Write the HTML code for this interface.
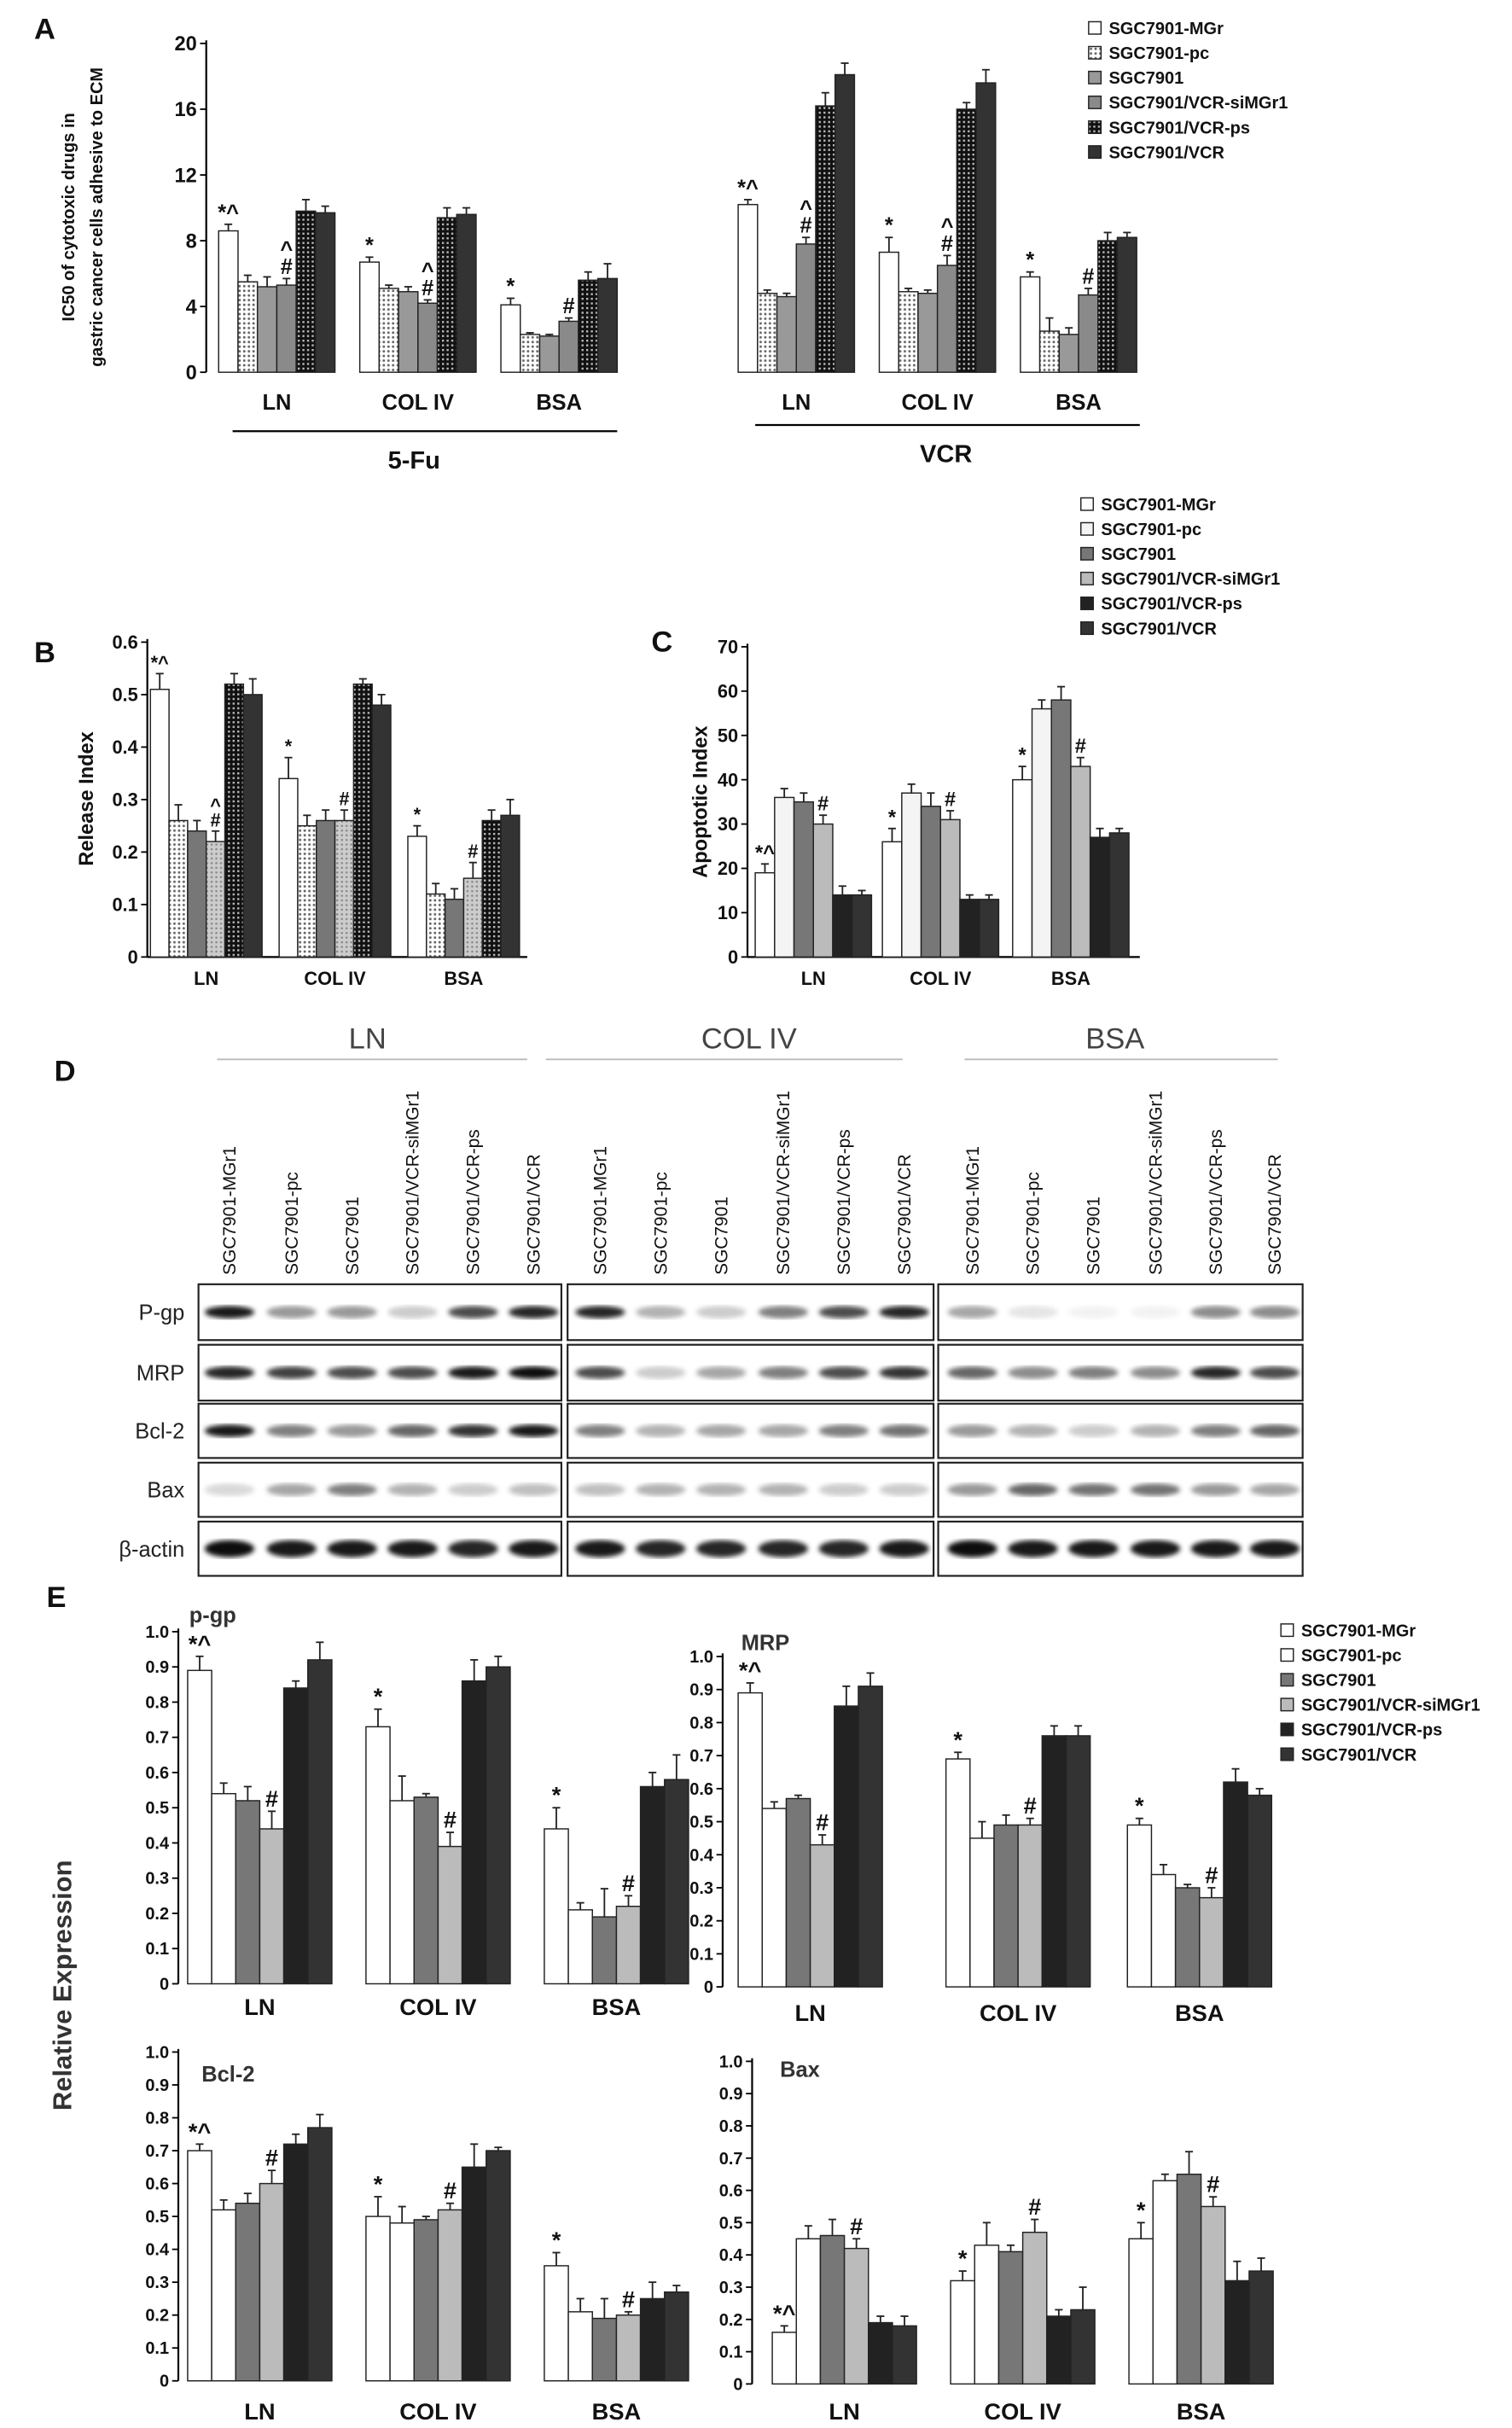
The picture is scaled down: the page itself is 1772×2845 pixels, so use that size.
<!DOCTYPE html>
<html><head><meta charset="utf-8">
<style>
html,body{margin:0;padding:0;background:#fff;}
svg{display:block;font-family:"Liberation Sans",Arial,sans-serif;}
</style></head>
<body>
<svg id="fig" width="1772" height="2845" viewBox="0 0 975 1565.4" preserveAspectRatio="none" xmlns="http://www.w3.org/2000/svg">
<defs>
<pattern id="dots" width="3" height="3" patternUnits="userSpaceOnUse"><rect width="3" height="3" fill="#fff"/><circle cx="1.5" cy="1.5" r="0.8" fill="#666"/></pattern>
<pattern id="ldots" width="3" height="3" patternUnits="userSpaceOnUse"><rect width="3" height="3" fill="#ccc"/><circle cx="1.5" cy="1.5" r="0.7" fill="#888"/></pattern>
<pattern id="chk" width="3" height="3" patternUnits="userSpaceOnUse"><rect width="3" height="3" fill="#111"/><rect x="0" y="0" width="1.3" height="1.3" fill="#bbb"/></pattern>
<filter id="blur"><feGaussianBlur stdDeviation="1.6"/></filter>
</defs>
<g id="root"></g>
</svg>
<script>
// ===== Panel A data =====
const aCategories = ["LN","COL IV","BSA","LN","COL IV","BSA"];
const aValues = [
 [8.6,5.5,5.2,5.3,9.8,9.7],
 [6.7,5.1,4.9,4.2,9.4,9.6],
 [4.1,2.3,2.2,3.1,5.6,5.7],
 [10.2,4.8,4.6,7.8,16.2,18.1],
 [7.3,4.9,4.8,6.5,16.0,17.6],
 [5.8,2.5,2.3,4.7,8.0,8.2]];
const aErrors = [
 [0.4,0.4,0.6,0.4,0.7,0.4],
 [0.3,0.2,0.3,0.2,0.6,0.4],
 [0.4,0.1,0.1,0.2,0.5,0.9],
 [0.3,0.2,0.2,0.4,0.8,0.7],
 [0.9,0.2,0.2,0.6,0.4,0.8],
 [0.3,0.8,0.4,0.4,0.5,0.3]];
const aTicks = [0,4,8,12,16,20];
const aMarks = [[0,0,"*^"],[0,3,"^#"],[1,0,"*"],[1,3,"^#"],[2,0,"*"],[2,3,"#"],[3,0,"*^"],[3,3,"^#"],[4,0,"*"],[4,3,"^#"],[5,0,"*"],[5,3,"#"]];
// ===== Panel B data =====
const bCategories = ["LN","COL IV","BSA"];
const bValues = [[0.51,0.26,0.24,0.22,0.52,0.50],[0.34,0.25,0.26,0.26,0.52,0.48],[0.23,0.12,0.11,0.15,0.26,0.27]];
const bErrors = [[0.03,0.03,0.02,0.02,0.02,0.03],[0.04,0.02,0.02,0.02,0.01,0.02],[0.02,0.02,0.02,0.03,0.02,0.03]];
const bTicks = [0,0.1,0.2,0.3,0.4,0.5,0.6];
const bMarks = [[0,0,"*^"],[0,3,"^#"],[1,0,"*"],[1,3,"#"],[2,0,"*"],[2,3,"#"]];
// ===== Panel C data =====
const cCategories = ["LN","COL IV","BSA"];
const cValues = [[19,36,35,30,14,14],[26,37,34,31,13,13],[40,56,58,43,27,28]];
const cErrors = [[2,2,2,2,2,1],[3,2,3,2,1,1],[3,2,3,2,2,1]];
const cTicks = [0,10,20,30,40,50,60,70];
const cMarks = [[0,0,"*^"],[0,3,"#"],[1,0,"*"],[1,3,"#"],[2,0,"*"],[2,3,"#"]];
// ===== Panel E data =====
const eCategories = ["LN","COL IV","BSA"];
const eTicks = [0,0.1,0.2,0.3,0.4,0.5,0.6,0.7,0.8,0.9,1.0];
const pgpValues = [[0.89,0.54,0.52,0.44,0.84,0.92],[0.73,0.52,0.53,0.39,0.86,0.90],[0.44,0.21,0.19,0.22,0.56,0.58]];
const pgpErrors = [[0.04,0.03,0.04,0.05,0.02,0.05],[0.05,0.07,0.01,0.04,0.06,0.03],[0.06,0.02,0.08,0.03,0.04,0.07]];
const mrpValues = [[0.89,0.54,0.57,0.43,0.85,0.91],[0.69,0.45,0.49,0.49,0.76,0.76],[0.49,0.34,0.30,0.27,0.62,0.58]];
const mrpErrors = [[0.03,0.02,0.01,0.03,0.06,0.04],[0.02,0.05,0.03,0.02,0.03,0.03],[0.02,0.03,0.01,0.03,0.04,0.02]];
const bclValues = [[0.70,0.52,0.54,0.60,0.72,0.77],[0.50,0.48,0.49,0.52,0.65,0.70],[0.35,0.21,0.19,0.20,0.25,0.27]];
const bclErrors = [[0.02,0.03,0.03,0.04,0.03,0.04],[0.06,0.05,0.01,0.02,0.07,0.01],[0.04,0.04,0.06,0.01,0.05,0.02]];
const baxValues = [[0.16,0.45,0.46,0.42,0.19,0.18],[0.32,0.43,0.41,0.47,0.21,0.23],[0.45,0.63,0.65,0.55,0.32,0.35]];
const baxErrors = [[0.02,0.04,0.05,0.03,0.02,0.03],[0.03,0.07,0.02,0.04,0.02,0.07],[0.05,0.02,0.07,0.03,0.06,0.04]];
const eMarks = [[0,0,"*^"],[0,3,"#"],[1,0,"*"],[1,3,"#"],[2,0,"*"],[2,3,"#"]];
const baxMarks = [[0,0,"*^"],[0,3,"#"],[1,0,"*"],[1,3,"#"],[2,0,"*"],[2,3,"#"]];
const seriesNames = ["SGC7901-MGr","SGC7901-pc","SGC7901","SGC7901/VCR-siMGr1","SGC7901/VCR-ps","SGC7901/VCR"];
const laneNames = ["SGC7901-MGr1","SGC7901-pc","SGC7901","SGC7901/VCR-siMGr1","SGC7901/VCR-ps","SGC7901/VCR"];
// ===== Panel D blot intensities =====
const blotRows = ["P-gp","MRP","Bcl-2","Bax","β-actin"];
const blotLN = [[0.9,0.4,0.4,0.2,0.7,0.85],[0.85,0.75,0.7,0.7,0.9,0.95],[0.9,0.5,0.4,0.6,0.8,0.9],[0.15,0.35,0.5,0.3,0.2,0.25],[0.95,0.9,0.9,0.9,0.85,0.9]];
const blotCOL = [[0.85,0.3,0.2,0.5,0.7,0.85],[0.7,0.2,0.35,0.5,0.7,0.8],[0.5,0.3,0.35,0.35,0.5,0.55],[0.25,0.3,0.3,0.3,0.2,0.2],[0.9,0.85,0.85,0.85,0.85,0.9]];
const blotBSA = [[0.35,0.1,0.05,0.05,0.45,0.45],[0.6,0.45,0.5,0.45,0.85,0.7],[0.4,0.3,0.2,0.3,0.5,0.6],[0.4,0.6,0.55,0.55,0.4,0.35],[0.95,0.9,0.9,0.9,0.9,0.9]];

const NS="http://www.w3.org/2000/svg";
const root=document.getElementById('root');
function el(tag,attrs,parent){const e=document.createElementNS(NS,tag);for(const k in attrs)e.setAttribute(k,attrs[k]);(parent||root).appendChild(e);return e;}
function txt(x,y,s,size,opts,parent){const t=el('text',Object.assign({x:x,y:y,'font-size':size,fill:'#111'},opts||{}),parent);t.textContent=s;return t;}

function chart(cfg){
  const g=el('g',{});
  
  
  const ys=v=>cfg.y0-(v/cfg.max)*(cfg.y0-cfg.yTop);
  const ax=el('line',{x1:cfg.x0,y1:cfg.yTop-2,x2:cfg.x0,y2:cfg.y0,stroke:'#000','stroke-width':1.2},g);
  
  
  const bx=el('line',{x1:cfg.x0,y1:cfg.y0,x2:cfg.xEnd,y2:cfg.y0,stroke:'#000','stroke-width':1.2},g);
  
  
  cfg.ticks.forEach(t=>{
    const y=ys(t);
    el('line',{x1:cfg.x0-4,y1:y,x2:cfg.x0,y2:y,stroke:'#000','stroke-width':1},g);
    const tl=txt(cfg.x0-6,y+cfg.tickSize*0.35,cfg.fmt(t),cfg.tickSize,{'text-anchor':'end','font-weight':'bold'},g);
    
    
  });
  cfg.values.forEach((grp,gi)=>{
    grp.forEach((v,bi)=>{
      const x=cfg.gx[gi]+bi*cfg.pitch;
      const y=ys(v);
      const r=el('rect',{x:x,y:y,width:cfg.barW,height:cfg.y0-y,fill:cfg.fills[bi],stroke:'#222','stroke-width':0.8},g);
      
      
      const e=cfg.errors[gi][bi];
      const ye=ys(v+e), cx=x+cfg.barW/2;
      el('line',{x1:cx,y1:y,x2:cx,y2:ye,stroke:'#222','stroke-width':1},g);
      el('line',{x1:cx-2.5,y1:ye,x2:cx+2.5,y2:ye,stroke:'#222','stroke-width':1},g);
    });
  });
  cfg.marks.forEach(m=>{
    const [gi,bi,s]=m;const v=cfg.values[gi][bi]+cfg.errors[gi][bi];
    const x=cfg.gx[gi]+bi*cfg.pitch+cfg.barW/2;
    let y=ys(v)-3;
    const chars=s.split('');
    if(bi===0){const t=txt(x,y,s,cfg.markSize,{'text-anchor':'middle','font-weight':'bold'},g);}
    else{for(let i=chars.length-1;i>=0;i--){const t=txt(x,y,chars[i],cfg.markSize,{'text-anchor':'middle','font-weight':'bold'},g);y-=cfg.markSize*0.8;}}
  });
  cfg.cats.forEach((c,gi)=>{
    const t=txt(cfg.gx[gi]+cfg.pitch*3-(cfg.pitch-cfg.barW)/2,cfg.labY,c,cfg.labSize,{'text-anchor':'middle','font-weight':'bold'},g);
    
    
  });
  return g;
}
function legend(x,y,fills,size,gap,name){
  const g=el('g',{});
  
  
  seriesNames.forEach((s,i)=>{
    const yy=y+i*gap;
    el('rect',{x:x,y:yy-8,width:8,height:8,fill:fills[i],stroke:'#222','stroke-width':0.8},g);
    const t=txt(x+13,yy,s,size,{'font-weight':'bold'},g);
    
    
  });
}
function letter(x,y,s){const t=txt(x,y,s,19,{'font-weight':'bold'});}

// ---- Panel A ----
letter(22,25,"A");
const aFills=['#fff','url(#dots)','#999','#8a8a8a','url(#chk)','#333'];
chart({name:'chart-a',x0:133,y0:240,yTop:28,max:20,xEnd:133,ticks:aTicks,fmt:t=>String(t),tickSize:13,
 values:aValues,errors:aErrors,cats:aCategories,gx:[141,232,323,476,567,658],pitch:12.5,barW:12.5,fills:aFills,
 marks:aMarks,markSize:14,labY:264,labSize:14});
(function(){const t1=txt(48,140,"IC50 of cytotoxic drugs in",11,{'text-anchor':'middle','font-weight':'bold',transform:'rotate(-90 48 140)'});
const t2=txt(66,140,"gastric cancer cells adhesive to ECM",11,{'text-anchor':'middle','font-weight':'bold',transform:'rotate(-90 66 140)'});
el('line',{x1:150,y1:278,x2:398,y2:278,stroke:'#000','stroke-width':1.2});
el('line',{x1:487,y1:274,x2:735,y2:274,stroke:'#000','stroke-width':1.2});
const f=txt(267,302,"5-Fu",16,{'text-anchor':'middle','font-weight':'bold'});
const v=txt(610,298,"VCR",16,{'text-anchor':'middle','font-weight':'bold'});})();
legend(702,22,aFills,11,16,'legend-a');

// ---- Panel B/C ----
letter(22,427,"B");letter(420,420,"C");
const bcFills=['#fff','#f4f4f4','#777','#bbb','#222','#333'];
chart({name:'chart-b',x0:95,y0:617,yTop:414,max:0.6,xEnd:340,ticks:bTicks,fmt:t=>t===0?"0":t.toFixed(1),tickSize:12,
 values:bValues,errors:bErrors,cats:bCategories,gx:[97,180,263],pitch:12,barW:12,fills:['#fff','url(#dots)','#777','url(#ldots)','url(#chk)','#333'],
 marks:bMarks,markSize:12,labY:635,labSize:12});
chart({name:'chart-c',x0:482,y0:617,yTop:417,max:70,xEnd:735,ticks:cTicks,fmt:t=>String(t),tickSize:12,
 values:cValues,errors:cErrors,cats:cCategories,gx:[487,569,653],pitch:12.5,barW:12.5,fills:bcFills,
 marks:cMarks,markSize:13,labY:635,labSize:12});
(function(){const t=txt(60,515,"Release Index",13,{'text-anchor':'middle','font-weight':'bold',transform:'rotate(-90 60 515)'});
const t2=txt(456,517,"Apoptotic Index",13,{'text-anchor':'middle','font-weight':'bold',transform:'rotate(-90 456 517)'});})();
legend(697,329,bcFills,11,16,'legend-bc');

// ---- Panel D ----
letter(35,697,"D");
const dPanels=[{name:'LN',hx:237,lx1:140,lx2:340,bx:128,bw:234,lanes:[148,188,227,266,305,344],data:blotLN},
 {name:'COL IV',hx:483,lx1:352,lx2:582,bx:366,bw:236,lanes:[387,426,465,505,544,583],data:blotCOL},
 {name:'BSA',hx:719,lx1:622,lx2:824,bx:605,bw:235,lanes:[627,666,705,745,784,822],data:blotBSA}];
const rowY=[828,867,905,943,981], rowH=[36,36,35,35,35];
dPanels.forEach(p=>{
  const h=txt(p.hx,676,p.name,19,{'text-anchor':'middle',fill:'#444'});
  
  
  el('line',{x1:p.lx1,y1:683,x2:p.lx2,y2:683,stroke:'#bbb','stroke-width':1});
  p.lanes.forEach((lx,i)=>{
    const t=txt(lx+4,822,laneNames[i],11.5,{transform:'rotate(-90 '+(lx+4)+' 822)'});
    
    
  });
  rowY.forEach((ry,ri)=>{
    const b=el('rect',{x:p.bx,y:ry,width:p.bw,height:rowH[ri],fill:'#fff',stroke:'#222','stroke-width':1.2});
    
    
    p.data[ri].forEach((v,li)=>{
      const band=el('ellipse',{cx:p.lanes[li],cy:ry+rowH[ri]/2,rx:16,ry:ri===4?5.5:4,fill:'#000','fill-opacity':v,filter:'url(#blur)'});
      
      
    });
  });
});
blotRows.forEach((r,ri)=>{const t=txt(119,rowY[ri]+rowH[ri]/2+5,r,14,{'text-anchor':'end',fill:'#222'});});

// ---- Panel E ----
letter(30,1036,"E");
const eFills=['#fff','#fff','#777','#bbb','#222','#333'];
const fmtE=t=>t===0?"0":t.toFixed(1);
chart({name:'chart-pgp',x0:115,y0:1279,yTop:1052,max:1.0,xEnd:115,ticks:eTicks,fmt:fmtE,tickSize:11,
 values:pgpValues,errors:pgpErrors,cats:eCategories,gx:[121,236,351],pitch:15.5,barW:15.5,fills:eFills,
 marks:eMarks,markSize:15,labY:1299,labSize:15});
chart({name:'chart-mrp',x0:466,y0:1281,yTop:1068,max:1.0,xEnd:466,ticks:eTicks,fmt:fmtE,tickSize:11,
 values:mrpValues,errors:mrpErrors,cats:eCategories,gx:[476,610,727],pitch:15.5,barW:15.5,fills:eFills,
 marks:eMarks,markSize:15,labY:1303,labSize:15});
chart({name:'chart-bcl2',x0:115,y0:1535,yTop:1323,max:1.0,xEnd:115,ticks:eTicks,fmt:fmtE,tickSize:11,
 values:bclValues,errors:bclErrors,cats:eCategories,gx:[121,236,351],pitch:15.5,barW:15.5,fills:eFills,
 marks:eMarks,markSize:15,labY:1560,labSize:15});
chart({name:'chart-bax',x0:485,y0:1537,yTop:1329,max:1.0,xEnd:485,ticks:eTicks,fmt:fmtE,tickSize:11,
 values:baxValues,errors:baxErrors,cats:eCategories,gx:[498,613,728],pitch:15.5,barW:15.5,fills:eFills,
 marks:baxMarks,markSize:15,labY:1560,labSize:15});
[["p-gp",122,1046],["MRP",478,1064],["Bcl-2",130,1342],["Bax",503,1339]].forEach(a=>{const t=txt(a[1],a[2],a[0],14,{'font-weight':'bold',fill:'#333'});});
(function(){const t=txt(46,1280,"Relative Expression",17,{'text-anchor':'middle','font-weight':'bold',fill:'#333',transform:'rotate(-90 46 1280)'});})();
legend(826,1055,eFills,11,16,'legend-e');
</script>
</body></html>
